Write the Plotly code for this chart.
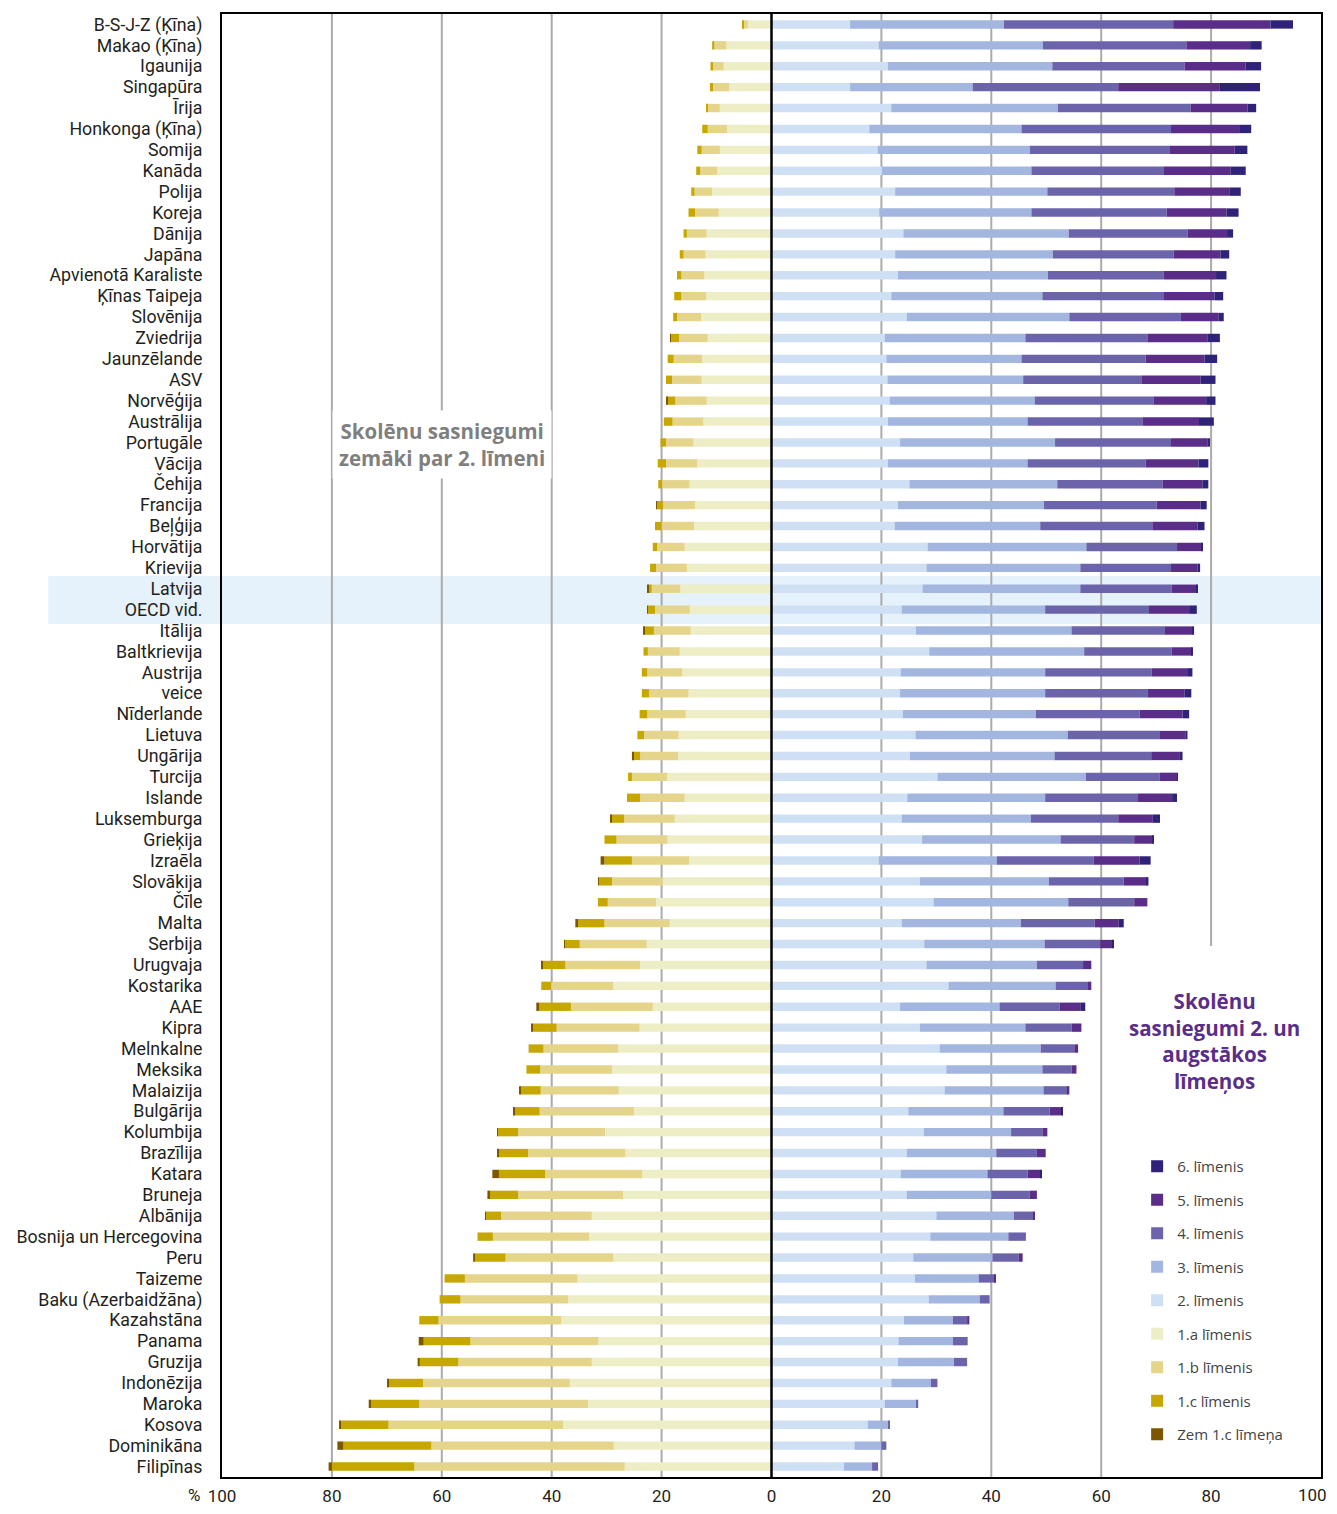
import plotly.graph_objects as go

countries = [
    "B-S-J-Z (Ķīna)", "Makao (Ķīna)", "Igaunija", "Singapūra", "Īrija",
    "Honkonga (Ķīna)", "Somija", "Kanāda", "Polija", "Koreja",
    "Dānija", "Japāna", "Apvienotā Karaliste", "Ķīnas Taipeja", "Slovēnija",
    "Zviedrija", "Jaunzēlande", "ASV", "Norvēģija", "Austrālija",
    "Portugāle", "Vācija", "Čehija", "Francija", "Beļģija",
    "Horvātija", "Krievija", "Latvija", "OECD vid.", "Itālija",
    "Baltkrievija", "Austrija", "veice", "Nīderlande", "Lietuva",
    "Ungārija", "Turcija", "Islande", "Luksemburga", "Grieķija",
    "Izraēla", "Slovākija", "Čīle", "Malta", "Serbija",
    "Urugvaja", "Kostarika", "AAE", "Kipra", "Melnkalne",
    "Meksika", "Malaizija", "Bulgārija", "Kolumbija", "Brazīlija",
    "Katara", "Bruneja", "Albānija", "Bosnija un Hercegovina", "Peru",
    "Taizeme", "Baku (Azerbaidžāna)", "Kazahstāna", "Panama", "Gruzija",
    "Indonēzija", "Maroka", "Kosova", "Dominikāna", "Filipīnas",
]

# shares of students (%) below level 2 (drawn to the left)
lvl_1a = [4.3, 8.2, 8.7, 7.7, 9.4, 8.1, 9.4, 9.9, 10.8, 9.6,
          11.8, 12.0, 12.2, 11.9, 12.8, 11.6, 12.6, 12.7, 11.8, 12.4,
          14.2, 13.5, 14.9, 13.9, 14.1, 15.8, 15.4, 16.6, 14.9, 14.7,
          16.7, 16.2, 15.1, 15.6, 16.9, 17.0, 19.0, 15.8, 17.6, 18.9,
          15.0, 19.8, 21.0, 18.5, 22.7, 23.9, 28.8, 21.6, 24.0, 27.9,
          29.0, 27.8, 25.0, 30.3, 26.6, 23.5, 27.0, 32.7, 33.2, 28.8,
          35.3, 37.0, 38.3, 31.5, 32.7, 36.7, 33.4, 37.9, 28.7, 26.7]
lvl_1b = [0.8, 2.2, 2.1, 2.9, 2.2, 3.5, 3.3, 3.1, 3.2, 4.3,
          3.6, 4.0, 4.2, 4.5, 4.4, 5.2, 5.2, 5.4, 5.7, 5.6,
          5.0, 5.7, 5.0, 5.8, 5.9, 5.0, 5.6, 5.2, 6.3, 6.7,
          5.8, 6.4, 7.2, 7.0, 6.3, 6.9, 6.4, 8.1, 9.2, 9.3,
          10.4, 9.2, 8.8, 11.9, 12.2, 13.6, 11.3, 14.9, 15.1, 13.6,
          13.1, 14.2, 17.2, 15.8, 17.7, 17.7, 19.1, 16.5, 17.5, 19.6,
          20.5, 19.6, 22.3, 23.3, 24.3, 26.7, 30.7, 31.8, 33.2, 38.3]
lvl_1c = [0.1, 0.4, 0.3, 0.6, 0.3, 1.0, 0.8, 0.7, 0.6, 1.2,
          0.6, 0.7, 0.8, 1.3, 0.7, 1.5, 1.1, 1.1, 1.5, 1.6,
          1.0, 1.5, 0.7, 1.2, 1.2, 0.8, 1.1, 0.6, 1.3, 1.7,
          0.8, 1.0, 1.3, 1.4, 1.2, 1.3, 0.7, 2.4, 2.4, 2.2,
          5.0, 2.4, 1.8, 4.8, 2.7, 4.1, 1.8, 5.8, 4.4, 2.7,
          2.5, 3.7, 4.6, 3.7, 5.3, 8.4, 5.3, 2.8, 2.8, 5.5,
          3.7, 3.8, 3.5, 8.5, 7.0, 6.3, 8.9, 8.7, 16.0, 15.0]
lvl_below = [0, 0, 0, 0, 0, 0, 0, 0, 0, 0,
             0, 0, 0, 0, 0, 0.1, 0, 0, 0.2, 0,
             0, 0, 0, 0.1, 0, 0, 0, 0.1, 0.1, 0.2,
             0, 0, 0, 0, 0, 0.1, 0, 0, 0.1, 0,
             0.7, 0.1, 0, 0.5, 0.1, 0.2, 0, 0.5, 0.2, 0,
             0, 0.2, 0.2, 0.1, 0.3, 1.2, 0.3, 0.1, 0, 0.4,
             0, 0, 0, 0.9, 0.4, 0.2, 0.3, 0.2, 1.1, 0.6]

# shares of students (%) at level 2 and above (drawn to the right)
lvl_2 = [14.3, 19.5, 21.2, 14.3, 21.8, 17.8, 19.3, 20.1, 22.5, 19.6,
         24.0, 22.5, 23.0, 21.8, 24.6, 20.6, 20.9, 21.1, 21.5, 21.2,
         23.4, 21.2, 25.1, 23.0, 22.4, 28.4, 28.2, 27.5, 23.7, 26.3,
         28.7, 23.5, 23.4, 23.9, 26.2, 25.2, 30.2, 24.7, 23.7, 27.4,
         19.5, 27.0, 29.5, 23.7, 27.8, 28.2, 32.2, 23.4, 27.0, 30.6,
         31.8, 31.5, 24.9, 27.7, 24.6, 23.5, 24.6, 30.0, 28.9, 25.8,
         26.1, 28.6, 24.1, 23.1, 23.0, 21.8, 20.6, 17.5, 15.1, 13.2]
lvl_3 = [28.0, 29.9, 29.9, 22.3, 30.3, 27.7, 27.7, 27.2, 27.7, 27.7,
         30.1, 28.7, 27.3, 27.5, 29.6, 25.6, 24.6, 24.7, 26.4, 25.4,
         28.2, 25.4, 26.9, 26.6, 26.5, 28.9, 28.0, 28.7, 26.1, 28.3,
         28.2, 26.3, 26.4, 24.2, 27.7, 26.3, 27.0, 25.1, 23.5, 25.2,
         21.5, 23.5, 24.5, 21.7, 21.9, 20.1, 19.5, 18.1, 19.2, 18.4,
         17.5, 18.0, 17.3, 15.9, 16.3, 15.8, 15.4, 14.1, 14.2, 14.4,
         11.6, 9.3, 8.9, 9.9, 10.2, 7.2, 5.7, 3.8, 4.9, 5.1]
lvl_4 = [30.8, 26.1, 24.1, 26.5, 24.2, 27.2, 25.4, 24.0, 23.1, 24.6,
         21.6, 22.0, 21.1, 22.0, 20.3, 22.2, 22.6, 21.5, 21.6, 20.9,
         21.1, 21.5, 19.2, 20.5, 20.4, 16.5, 16.5, 16.6, 18.9, 17.0,
         15.9, 19.4, 18.6, 18.9, 16.8, 17.6, 13.4, 16.9, 15.9, 13.4,
         17.6, 13.6, 12.0, 13.4, 10.1, 8.4, 5.9, 10.9, 8.4, 6.1,
         5.3, 4.4, 8.4, 5.7, 7.4, 7.3, 7.0, 3.5, 3.2, 4.8,
         2.9, 1.8, 2.6, 2.7, 2.4, 1.2, 0.4, 0.1, 0.9, 1.1]
lvl_5 = [17.7, 11.6, 11.1, 18.5, 10.3, 12.4, 11.9, 12.2, 10.0, 10.9,
         7.2, 8.5, 9.5, 9.3, 6.9, 10.9, 10.7, 10.8, 9.6, 10.3,
         6.6, 9.6, 7.2, 8.0, 8.2, 4.5, 4.8, 4.6, 7.3, 5.0,
         3.7, 6.6, 6.8, 7.8, 4.6, 5.1, 3.2, 6.2, 6.3, 3.4,
         8.4, 4.2, 2.4, 4.4, 2.3, 1.5, 0.6, 3.9, 1.8, 0.7,
         0.9, 0.3, 2.1, 0.9, 1.6, 2.3, 1.3, 0.3, 0, 0.7,
         0.1, 0, 0.4, 0, 0, 0, 0, 0, 0, 0]
lvl_6 = [4.1, 2.1, 2.8, 7.3, 1.6, 2.2, 2.3, 2.8, 2.1, 2.2,
         1.1, 1.6, 1.9, 1.6, 0.9, 2.3, 2.3, 2.7, 1.7, 2.7,
         0.5, 1.8, 1.1, 1.1, 1.3, 0.2, 0.5, 0.2, 1.4, 0.3,
         0.2, 0.8, 1.2, 1.2, 0.4, 0.6, 0.1, 0.9, 1.3, 0.2,
         2.0, 0.3, 0, 0.9, 0.1, 0, 0, 0.8, 0, 0,
         0, 0, 0.3, 0, 0, 0.3, 0, 0, 0, 0,
         0, 0, 0, 0, 0, 0, 0, 0, 0, 0]

# the last "100" is written as a note so it stays inside the page
x_ticks = [-100, -80, -60, -40, -20, 0, 20, 40, 60, 80]

# (name, values, colour, side, legend rank)
series = [
    ("1.a līmenis", lvl_1a, "#edeec5", -1, 6),
    ("1.b līmenis", lvl_1b, "#e5d58b", -1, 7),
    ("1.c līmenis", lvl_1c, "#c5a700", -1, 8),
    ("Zem 1.c līmeņa", lvl_below, "#7d5700", -1, 9),
    ("2. līmenis", lvl_2, "#cfe0f4", 1, 5),
    ("3. līmenis", lvl_3, "#a3b6e0", 1, 4),
    ("4. līmenis", lvl_4, "#6b64ab", 1, 3),
    ("5. līmenis", lvl_5, "#5a2d88", 1, 2),
    ("6. līmenis", lvl_6, "#2e2378", 1, 1),
]

LABEL_FONT = "Roboto"
NOTE_FONT = "Open Sans"

fig = go.Figure()
for name, vals, color, side, rank in series:
    fig.add_trace(go.Bar(
        y=countries,
        x=[side * v for v in vals],
        orientation='h',
        name=name,
        marker=dict(color=color, line=dict(width=0)),
        legendgroup=name,
        legendrank=rank,
    ))

shapes = []
# highlighted rows (Latvija, OECD vid.)
shapes.append(dict(type='rect', xref='paper', yref='paper', x0=-0.158, x1=1,
                   y0=0.5831, y1=0.6159, fillcolor='#e5f1fb', line=dict(width=0),
                   layer='below'))
for v in [-80, -60, -40, -20, 20, 40, 60]:
    shapes.append(dict(type='line', xref='x', yref='paper', x0=v, x1=v, y0=0, y1=1,
                       line=dict(color='#ababab', width=2), layer='below'))
shapes.append(dict(type='line', xref='x', yref='paper', x0=80, x1=80, y0=0.363, y1=1,
                   line=dict(color='#ababab', width=2), layer='below'))
shapes.append(dict(type='line', xref='x', yref='paper', x0=0, x1=0, y0=0, y1=1,
                   line=dict(color='black', width=2.5), layer='above'))

fig.update_layout(
    width=1321,
    height=1498,
    margin=dict(l=214, r=8, t=6, b=29),
    barmode='relative',
    bargap=0.6,
    plot_bgcolor='white',
    paper_bgcolor='white',
    font=dict(family=LABEL_FONT, color='#231f20'),
    shapes=shapes,
    legend=dict(x=0.8327, y=0.2235, xanchor='left', yanchor='top',
                traceorder='grouped', tracegroupgap=11,
                font=dict(family=NOTE_FONT, size=15, color='#444444'),
                bgcolor='rgba(0,0,0,0)'),
    annotations=[
        dict(text="<b>Skolēnu sasniegumi<br>zemāki par 2. līmeni</b>",
             xref='x', yref='paper', x=-60, y=0.7054, xanchor='center',
             yanchor='middle', showarrow=False,
             font=dict(family=NOTE_FONT, size=20.5, color='#7f7f7f'),
             bgcolor='white', borderpad=6),
        dict(text="<b>Skolēnu<br>sasniegumi 2. un<br>augstākos<br>līmeņos</b>",
             xref='x', yref='paper', x=80.6, y=0.298, xanchor='center',
             yanchor='middle', showarrow=False,
             font=dict(family=NOTE_FONT, size=20.5, color='#5b2d8a')),
        dict(text="%", xref='paper', yref='paper', x=-0.0255, y=-0.0125,
             xanchor='center', yanchor='middle', showarrow=False,
             font=dict(size=17)),
        dict(text="100", xref='paper', yref='paper', x=1.0072, y=-0.0125,
             xanchor='right', yanchor='middle', showarrow=False,
             font=dict(size=17)),
    ],
)
fig.update_xaxes(range=[-100, 100], tickmode='array', tickvals=x_ticks,
                 ticktext=[str(abs(t)) for t in x_ticks],
                 showgrid=False, zeroline=False, showline=True, mirror=True,
                 linecolor='black', linewidth=2, tickfont=dict(size=17),
                 ticks='outside', ticklen=3, tickcolor='rgba(0,0,0,0)',
                 automargin=False, ticklabeloverflow='allow')
fig.update_yaxes(autorange='reversed', tickmode='array', tickvals=countries,
                 ticktext=countries, showgrid=False, zeroline=False,
                 showline=True, mirror=True, linecolor='black', linewidth=2,
                 tickfont=dict(size=17.8), ticks='outside', ticklen=14,
                 tickcolor='rgba(0,0,0,0)', automargin=False)

fig.write_html("out.html")
